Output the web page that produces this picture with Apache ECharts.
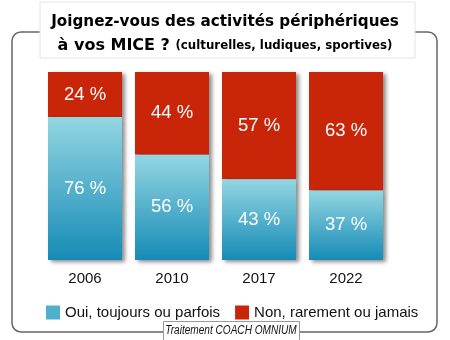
<!DOCTYPE html>
<html><head><meta charset="utf-8">
<script src="https://cdn.jsdelivr.net/npm/echarts@6/dist/echarts.min.js"></script>
<style>html,body{margin:0;padding:0;background:#fff}#c{width:450px;height:340px}</style>
</head><body><div id="c"></div>
<script>
const categories = ['2006', '2010', '2017', '2022'];
const oui = [76, 56, 43, 37];
const non = [24, 44, 57, 63];
const seriesNames = ['Oui, toujours ou parfois', 'Non, rarement ou jamais'];

const chart = echarts.init(document.getElementById('c'));
const blueGrad = new echarts.graphic.LinearGradient(0, 0, 0, 1, [
  {offset: 0, color: '#93d6e2'}, {offset: 1, color: '#168bb6'}]);
const labelStyle = {show: true, position: 'inside', color: '#fff', fontFamily: 'Liberation Sans, Arial', fontSize: 18.5,
  formatter: p => p.value + ' %'};
chart.setOption({
  animation: false,
  grid: {left: 41.5, right: 60.5, top: 72, bottom: 80},
  xAxis: {type: 'category', data: categories, axisLine: {show: false}, axisTick: {show: false},
    axisLabel: {color: '#111', fontFamily: 'Liberation Sans, Arial', fontSize: 15, margin: 11}},
  yAxis: {type: 'value', min: 0, max: 100, show: false, splitLine: {show: false}},
  legend: {left: 41, top: 300, itemWidth: 14, itemHeight: 14, itemGap: 15,
    textStyle: {color: '#111', fontFamily: 'Liberation Sans, Arial', fontSize: 15},
    data: [{name: seriesNames[0], icon: 'rect', itemStyle: {color: '#4fb0cc'}}, {name: seriesNames[1], icon: 'rect'}]},
  series: [
    {name: seriesNames[0], type: 'bar', stack: 't', data: oui, barWidth: 74, z: 3,
      itemStyle: {color: blueGrad, shadowColor: 'rgba(0,0,0,0.45)', shadowBlur: 4, shadowOffsetX: 3, shadowOffsetY: 2},
      label: labelStyle},
    {name: seriesNames[1], type: 'bar', stack: 't', data: non, barWidth: 74, z: 2,
      itemStyle: {color: '#c92508', shadowColor: 'rgba(0,0,0,0.45)', shadowBlur: 4, shadowOffsetX: 3, shadowOffsetY: 2},
      label: labelStyle}
  ],
  graphic: [
    {type: 'rect', z: -10, shape: {x: 12, y: 32, width: 425, height: 300, r: 9},
      style: {fill: 'none', stroke: '#666', lineWidth: 1.5}},
    {type: 'rect', z: 1, shape: {x: 40, y: 2, width: 375, height: 56},
      style: {fill: '#fff', stroke: '#e4e4e4', lineWidth: 1}},
    {type: 'text', z: 2, style: {x: 225, y: 11,
      text: '{a|Joignez-vous des activités périphériques}\n{b|à vos MICE ? }{c|(culturelles, ludiques, sportives)}',
      align: 'center', verticalAlign: 'top', fill: '#000',
      rich: {a: {fontFamily: 'DejaVu Sans', fontWeight: 'bold', fontSize: 15.2, lineHeight: 23},
        b: {fontFamily: 'DejaVu Sans', fontWeight: 'bold', fontSize: 16, lineHeight: 23},
        c: {fontFamily: 'DejaVu Sans', fontWeight: 'bold', fontSize: 11.8, lineHeight: 23}}}},
    {type: 'rect', z: 20, shape: {x: 163.5, y: 321.5, width: 136, height: 22},
      style: {fill: '#fff', stroke: '#999', lineWidth: 1}},
    {type: 'text', z: 21, x: 231, y: 325, scaleX: 0.84, style: {x: 0, y: 0, align: 'center',
      text: 'Traitement COACH OMNIUM', fill: '#111', fontFamily: 'Liberation Sans', fontStyle: 'italic', fontSize: 12}}
  ]
});
</script></body></html>
